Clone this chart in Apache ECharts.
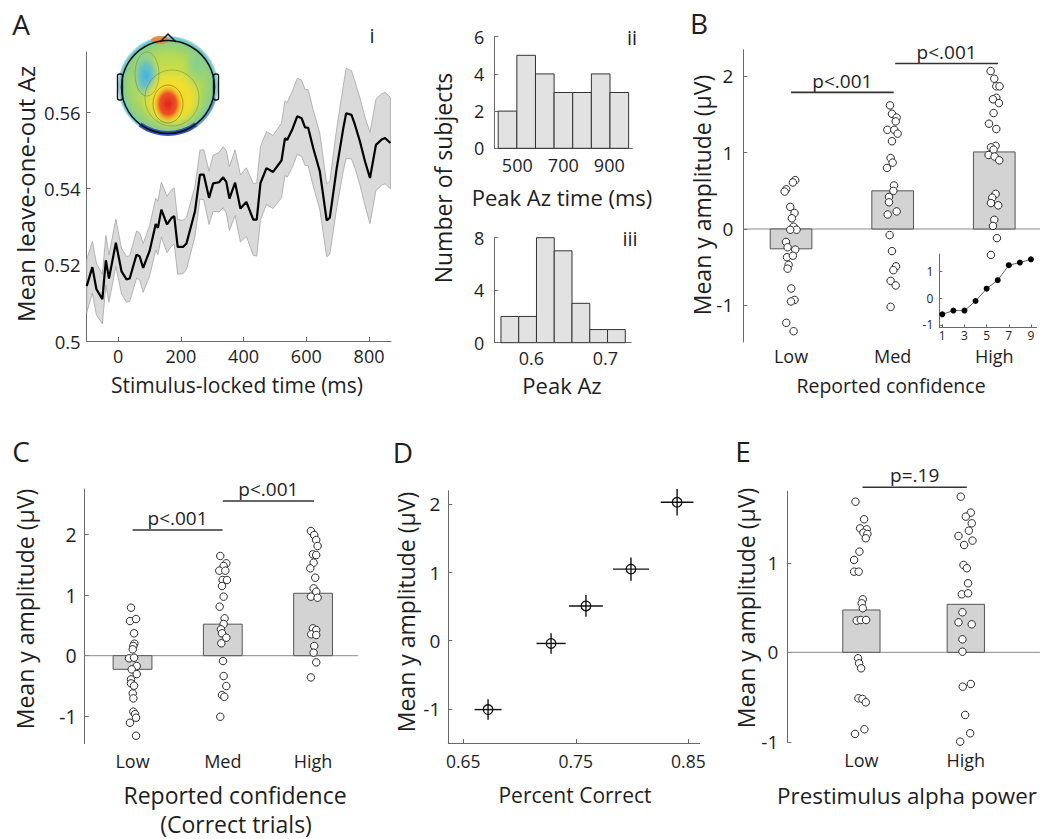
<!DOCTYPE html>
<html><head><meta charset="utf-8">
<script src="https://cdn.jsdelivr.net/npm/echarts@6/dist/echarts.min.js"></script>
<style>html,body{margin:0;padding:0;background:#fff}#c{width:1044px;height:839px}</style>
</head><body><div id="c"></div>
<script>
// ---------- Panel A(i): decoding time course ----------
const timeMs = [-100,-82,-69,-50,-39,-29,-7,11,27,37,59,69,80,101,120,127,138,156,170,179,190,207,218,245,261,273,290,303,322,335,345,355,373,390,409,431,442,454,473,494,521,532,539,556,571,585,596,606,622,643,665,675,697,718,727,744,755,771,787,803,822,840,851,868];
const meanAz = [0.5144,0.5194,0.5136,0.5110,0.5212,0.5164,0.5258,0.5183,0.5162,0.5164,0.5227,0.5222,0.5192,0.5238,0.5307,0.5297,0.5345,0.5306,0.5323,0.5328,0.5247,0.5247,0.5256,0.5340,0.5437,0.5437,0.5376,0.5414,0.5417,0.5430,0.5418,0.5374,0.5416,0.5348,0.5365,0.5319,0.5319,0.5415,0.5454,0.5444,0.5474,0.5533,0.5528,0.5557,0.5590,0.5585,0.5561,0.5560,0.5507,0.5446,0.5317,0.5324,0.5454,0.5559,0.5598,0.5594,0.5568,0.5524,0.5472,0.5428,0.5515,0.5529,0.5533,0.5520];
const semAz = [0.0070,0.0068,0.0068,0.0065,0.0065,0.0062,0.0062,0.0060,0.0060,0.0060,0.0062,0.0062,0.0064,0.0066,0.0068,0.0070,0.0072,0.0074,0.0074,0.0074,0.0072,0.0070,0.0068,0.0066,0.0064,0.0066,0.0070,0.0074,0.0078,0.0080,0.0082,0.0084,0.0086,0.0088,0.0090,0.0094,0.0096,0.0096,0.0096,0.0096,0.0098,0.0098,0.0098,0.0100,0.0100,0.0100,0.0100,0.0100,0.0100,0.0100,0.0096,0.0096,0.0104,0.0112,0.0118,0.0116,0.0114,0.0114,0.0116,0.0120,0.0120,0.0120,0.0120,0.0120];
const aXTicks = [0,200,400,600,800];
const aYTicks = [0.5,0.52,0.54,0.56];

// ---------- Panel A(ii), A(iii): histograms ----------
const peakTimeEdges = [417,498,579,660,741,822,903,984];
const peakTimeCounts = [2,5,4,3,3,4,3];
const peakAzEdges = [0.559,0.583,0.607,0.631,0.655,0.679,0.703,0.727];
const peakAzCounts = [2,2,8,7,3,1,1];

// ---------- Panel B ----------
const confCats = ['Low','Med','High'];
const bMeans = [-0.26,0.50,1.01];
const bLowVals = [0.64,0.61,0.52,0.49,0.29,0.21,0.14,0.03,-0.01,-0.01,-0.17,-0.24,-0.27,-0.37,-0.35,-0.47,-0.52,-0.78,-0.93,-0.95,-1.23,-1.34];
const bLowJit  = [0.041,0.018,-0.047,-0.063,-0.008,0.034,0.008,0.025,0.054,-0.008,-0.050,-0.034,0.041,-0.040,0.018,-0.024,-0.034,0.002,0.034,-0.001,-0.047,0.025];
const bMedVals = [1.62,1.51,1.46,1.41,1.30,1.30,1.25,1.15,0.93,0.87,0.80,0.57,0.50,0.42,0.35,0.19,0.23,-0.08,-0.29,-0.49,-0.54,-0.68,-0.74,-1.02];
const bMedJit  = [-0.026,-0.007,0.039,0.030,-0.052,0.016,0.049,-0.007,-0.020,0,-0.056,0.013,0.007,-0.036,-0.036,-0.049,0.039,-0.030,-0.007,0.033,0.007,-0.020,0.030,-0.020];
const bHighVals = [2.07,1.97,1.87,1.87,1.72,1.70,1.65,1.52,1.38,1.31,1.09,1.07,1.04,0.97,0.95,0.90,0.46,0.41,0.34,0.31,0.12,0.04,-0.12,-0.34];
const bHighJit  = [-0.036,0,0.020,0.052,0.020,-0.013,0.046,-0.007,-0.052,0.020,0.013,-0.033,-0.007,-0.056,0.003,0.049,0.013,-0.020,-0.033,0.039,0,-0.013,0.026,-0.033];
const bBrackets = [[1.0,2.01,1.79],[2.025,3.036,2.17]];
const bBracketLabels = ['p<.001','p<.001'];
// inset
const insetLevels = [1,2,3,4,5,6,7,8,9];
const insetAmp = [-0.60,-0.46,-0.46,-0.10,0.36,0.68,1.24,1.34,1.46];

// ---------- Panel C ----------
const cMeans = [-0.225,0.52,1.03];
const cLowVals = [0.792,0.572,0.605,0.369,0.198,0.160,0.105,-0.044,-0.033,-0.171,-0.226,-0.303,-0.391,-0.457,-0.495,-0.622,-0.704,-0.924,-0.963,-1.023,-1.106,-1.32];
const cLowJit  = [-0.017,-0.028,0.039,0.017,0.020,0.009,0.002,-0.039,0.017,0.046,-0.009,0.046,-0.017,-0.017,0.017,0.002,0.009,0.009,0.028,0.039,-0.028,0.039];
const cMedVals = [1.645,1.524,1.480,1.403,1.403,1.249,1.249,1.150,0.974,0.809,0.616,0.523,0.435,0.369,0.297,0.204,-0.088,-0.336,-0.501,-0.649,-0.677,-1.007];
const cMedJit  = [-0.028,0.039,0.009,-0.039,0.028,-0.002,0.046,-0.009,0.009,-0.035,0.020,0.009,-0.020,-0.009,0.039,-0.017,0.002,0.009,0.039,-0.009,0.017,-0.028];
const cHighVals = [2.057,1.991,1.909,1.810,1.672,1.661,1.535,1.441,1.287,1.111,1.056,0.974,0.957,0.451,0.424,0.352,0.341,0.160,0.050,-0.110,-0.358];
const cHighJit  = [-0.024,0.013,0.035,0.050,-0.002,0.035,0.006,-0.031,0.024,0.006,0.035,-0.024,0.050,-0.002,0.035,-0.020,0.035,0.013,0.006,0.035,-0.024];
const cBrackets = [[1.0,1.997,2.074],[2.0,3.01,2.553]];
const cBracketLabels = ['p<.001','p<.001'];

// ---------- Panel D ----------
const pctCorrect = [0.672,0.728,0.759,0.799,0.840];
const dAmp = [-1.01,-0.04,0.51,1.05,2.03];
const dXErr = [0.012,0.013,0.015,0.016,0.0145];
const dYErr = [0.15,0.15,0.16,0.17,0.195];
const dXTicks = [0.65,0.75,0.85];

// ---------- Panel E ----------
const alphaCats = ['Low','High'];
const eMeans = [0.473,0.536];
const eLowVals = [1.683,1.486,1.385,1.374,1.337,1.322,1.274,1.125,1.032,0.901,0.901,0.592,0.547,0.492,0.354,0.361,0.361,-0.067,-0.123,-0.179,-0.514,-0.521,-0.559,-0.912,-0.860];
const eLowJit  = [-0.057,0.026,-0.013,0.051,0.019,0.057,0.042,-0.019,-0.070,-0.070,-0.026,0.013,0.003,0.013,-0.045,-0.006,0.045,-0.032,-0.022,-0.003,-0.029,0.010,0.042,-0.061,0.029];
const eHighVals = [1.739,1.561,1.516,1.441,1.359,1.300,1.248,1.199,0.976,0.939,0.771,0.648,0.659,0.447,0.335,0.313,0.145,0.007,-0.384,-0.354,-0.700,-0.905,-0.998];
const eHighJit  = [-0.048,0.048,0,0.057,0.029,-0.070,0.064,-0.016,-0.022,0.010,0.022,-0.038,0.022,-0.032,-0.070,0.057,-0.032,-0.032,-0.029,0.048,-0.006,0.042,-0.054];
const eBrackets = [[1.01,2.01,1.844]];
const eBracketLabels = ['p=.19'];

// ================= build =================
const FONT = "'Open Sans', 'DejaVu Sans', sans-serif";
const TXT = '#1e1e1e';
const AX = '#6a6a6a';

function vAxis(o) {
  const fs = o.fs || 18.5;
  return {
    type: 'value', gridIndex: o.g, min: o.min, max: o.max,
    axisLine: { show: o.line !== false, onZero: false, lineStyle: { color: AX, width: 1 } },
    axisTick: { show: o.tick !== false, inside: true, length: o.tl || 4, customValues: o.ticks, lineStyle: { color: AX } },
    axisLabel: { show: true, customValues: o.labels || o.ticks, formatter: o.fmt, margin: o.m == null ? 7 : o.m,
                 fontFamily: FONT, fontSize: fs, lineHeight: fs, color: TXT, hideOverlap: false },
    splitLine: { show: false }
  };
}

const grid = [
  { left: 86.7, top: 52, width: 304.3, height: 289 },     // A
  { left: 494.3, top: 36.7, width: 138, height: 111.6 },  // ii
  { left: 494.3, top: 237.7, width: 136.9, height: 105 }, // iii
  { left: 743.3, top: 49.7, width: 296.7, height: 292.2 },// B
  { left: 939.3, top: 254, width: 97.2, height: 73.4 },   // inset
  { left: 84.7, top: 489, width: 273.5, height: 254.6 },  // C
  { left: 448.3, top: 490.7, width: 251.3, height: 252.3 },// D
  { left: 787.3, top: 491.2, width: 252.6, height: 250.6 } // E
];

const catFmt = (cats) => (v) => cats[Math.round(v) - 1];
const xAxis = [
  vAxis({ g: 0, min: -100, max: 870, ticks: aXTicks, m: 6, fs: 18 }),
  vAxis({ g: 1, min: 400, max: 1000, ticks: [500, 700, 900], m: 8, fs: 18 }),
  vAxis({ g: 2, min: 0.55, max: 0.735, ticks: [0.6, 0.65, 0.7], labels: [0.6, 0.7], m: 6, fs: 18 }),
  vAxis({ g: 3, min: 0.53, max: 3.45, ticks: [1, 2, 3], line: false, tick: false, fmt: catFmt(confCats), m: 5, fs: 18 }),
  vAxis({ g: 4, min: 0.73, max: 9.5, ticks: [1, 3, 5, 7, 9], fs: 12, m: 2, tl: 3 }),
  vAxis({ g: 5, min: 0.47, max: 3.5, ticks: [1, 2, 3], line: false, tick: false, fmt: catFmt(confCats), m: 8, fs: 18 }),
  vAxis({ g: 6, min: 0.63667, max: 0.86, ticks: dXTicks, m: 9, fs: 17.5 }),
  vAxis({ g: 7, min: 0.29, max: 2.71, ticks: [1, 2], line: false, tick: false, fmt: catFmt(alphaCats), m: 9, fs: 18 })
];
const yAxis = [
  vAxis({ g: 0, min: 0.5, max: 0.5759, ticks: aYTicks, m: 6 }),
  vAxis({ g: 1, min: 0, max: 6, ticks: [0, 2, 4, 6], m: 10, fs: 18 }),
  vAxis({ g: 2, min: 0, max: 8, ticks: [0, 4, 8], m: 10, fs: 18 }),
  vAxis({ g: 3, min: -1.48, max: 2.35, ticks: [-1, 0, 1, 2], m: 10, fs: 19 }),
  vAxis({ g: 4, min: -1.09, max: 1.66, ticks: [-1, 0, 1], fs: 12, m: 6, tl: 3 }),
  vAxis({ g: 5, min: -1.45, max: 2.75, ticks: [-1, 0, 1, 2], fs: 19.5, m: 8 }),
  vAxis({ g: 6, min: -1.5, max: 2.2, ticks: [-1, 0, 1, 2], m: 8, fs: 19 }),
  vAxis({ g: 7, min: -1, max: 1.8, ticks: [-1, 0, 1], m: 9, fs: 19 })
];

function rectSeries(ai, rows, fill, stroke) {
  return {
    type: 'custom', xAxisIndex: ai, yAxisIndex: ai, data: rows, encode: { x: [0, 1], y: [2, 3] },
    renderItem: function (params, api) {
      const p0 = api.coord([api.value(0), api.value(3)]);
      const p1 = api.coord([api.value(1), api.value(2)]);
      return { type: 'rect',
        shape: { x: Math.min(p0[0], p1[0]), y: Math.min(p0[1], p1[1]), width: Math.abs(p1[0] - p0[0]), height: Math.abs(p1[1] - p0[1]) },
        style: { fill: fill, stroke: stroke, lineWidth: 1 } };
    }
  };
}
function histRows(edges, counts) { return counts.map((c, i) => [edges[i], edges[i + 1], 0, c]); }
function barRows(means, w) { return means.map((m, i) => [i + 1 - w / 2, i + 1 + w / 2, 0, m]); }
function dotData(groups) {
  const out = [];
  groups.forEach((g, gi) => g[0].forEach((v, i) => out.push([gi + 1 + g[1][i], v])));
  return out;
}
function dotSeries(ai, groups) {
  return { type: 'scatter', xAxisIndex: ai, yAxisIndex: ai, data: dotData(groups), symbol: 'circle', symbolSize: 7.5,
           itemStyle: { color: '#ffffff', borderColor: '#2a2a2a', borderWidth: 1, opacity: 1 }, z: 5 };
}
function zeroSeries(ai, xmin, xmax) {
  return { type: 'line', xAxisIndex: ai, yAxisIndex: ai, data: [[xmin, 0], [xmax, 0]], symbol: 'none',
           lineStyle: { color: '#8a8a8a', width: 1 }, z: 1 };
}
function bracketSeries(ai, rows, labels, gap) {
  return {
    type: 'custom', xAxisIndex: ai, yAxisIndex: ai, data: rows, clip: false, encode: { x: [0, 1], y: 2 }, z: 6,
    renderItem: function (params, api) {
      const a = api.coord([api.value(0), api.value(2)]);
      const b = api.coord([api.value(1), api.value(2)]);
      return { type: 'group', children: [
        { type: 'line', shape: { x1: a[0], y1: a[1], x2: b[0], y2: b[1] }, style: { stroke: '#333', lineWidth: 1.6 } },
        { type: 'text', x: (a[0] + b[0]) / 2, y: a[1] - gap,
          style: { text: labels[params.dataIndex], fill: TXT, fontSize: 19, lineHeight: 19, fontFamily: FONT, align: 'center', verticalAlign: 'bottom', textAlign: 'center', textVerticalAlign: 'bottom' } }
      ] };
    }
  };
}

const series = [];
// A band
series.push({
  type: 'custom', xAxisIndex: 0, yAxisIndex: 0, data: timeMs.map((t, i) => [t, meanAz[i]]), z: 1,
  renderItem: function (params, api) {
    if (params.dataIndex !== 0) return null;
    const pts = [];
    for (let i = 0; i < timeMs.length; i++) pts.push(api.coord([timeMs[i], meanAz[i] + semAz[i]]));
    for (let i = timeMs.length - 1; i >= 0; i--) pts.push(api.coord([timeMs[i], meanAz[i] - semAz[i]]));
    return { type: 'polygon', shape: { points: pts }, style: { fill: '#dadada', stroke: '#a4a4a4', lineWidth: 0.8 } };
  }
});
series.push({ type: 'line', xAxisIndex: 0, yAxisIndex: 0, data: timeMs.map((t, i) => [t, meanAz[i]]), symbol: 'none',
              lineStyle: { color: '#000', width: 2.2 }, z: 3 });
// histograms
series.push(rectSeries(1, histRows(peakTimeEdges, peakTimeCounts), '#e2e2e2', '#333'));
series.push(rectSeries(2, histRows(peakAzEdges, peakAzCounts), '#e2e2e2', '#333'));
// B
series.push(zeroSeries(3, 0.53, 3.45));
series.push(rectSeries(3, barRows(bMeans, 0.41), '#d3d3d3', '#555'));
series.push(dotSeries(3, [[bLowVals, bLowJit], [bMedVals, bMedJit], [bHighVals, bHighJit]]));
series.push(bracketSeries(3, bBrackets, bBracketLabels, 2));
series.push({ type: 'line', xAxisIndex: 4, yAxisIndex: 4, data: insetLevels.map((l, i) => [l, insetAmp[i]]),
              symbol: 'circle', symbolSize: 6, itemStyle: { color: '#000' }, lineStyle: { color: '#666', width: 1 }, z: 4 });
// C
series.push(zeroSeries(5, 0.47, 3.5));
series.push(rectSeries(5, barRows(cMeans, 0.43), '#d3d3d3', '#555'));
series.push(dotSeries(5, [[cLowVals, cLowJit], [cMedVals, cMedJit], [cHighVals, cHighJit]]));
series.push(bracketSeries(5, cBrackets, cBracketLabels, 2));
// D
series.push({
  type: 'custom', xAxisIndex: 6, yAxisIndex: 6, data: pctCorrect.map((p, i) => [p, dAmp[i], dXErr[i], dYErr[i]]),
  encode: { x: 0, y: 1 },
  renderItem: function (params, api) {
    const x = api.value(0), y = api.value(1), xe = api.value(2), ye = api.value(3);
    const c = api.coord([x, y]), l = api.coord([x - xe, y]), r = api.coord([x + xe, y]);
    const t = api.coord([x, y + ye]), b = api.coord([x, y - ye]);
    return { type: 'group', children: [
      { type: 'line', shape: { x1: l[0], y1: l[1], x2: r[0], y2: r[1] }, style: { stroke: '#111', lineWidth: 1.4 } },
      { type: 'line', shape: { x1: t[0], y1: t[1], x2: b[0], y2: b[1] }, style: { stroke: '#111', lineWidth: 1.4 } },
      { type: 'circle', shape: { cx: c[0], cy: c[1], r: 4.8 }, style: { fill: 'none', stroke: '#111', lineWidth: 1.3 } }
    ] };
  }
});
// E
series.push(zeroSeries(7, 0.29, 2.71));
series.push(rectSeries(7, barRows(eMeans, 0.357), '#d3d3d3', '#555'));
series.push(dotSeries(7, [[eLowVals, eLowJit], [eHighVals, eHighJit]]));
series.push(bracketSeries(7, eBrackets, eBracketLabels, 3));

// ---------- text & topomap graphics ----------
function txt(s, x, y, size, rot) {
  return { type: 'text', x: x, y: y, rotation: rot ? Math.PI / 2 : 0, z: 50,
           style: { text: s, fill: TXT, fontSize: size, lineHeight: size, fontFamily: FONT, align: 'center', verticalAlign: 'middle', textAlign: 'center', textVerticalAlign: 'middle' } };
}
const rg = (stops) => ({ type: 'radial', x: 0.5, y: 0.5, r: 0.5, colorStops: stops.map(s => ({ offset: s[0], color: s[1] })) });
const topo = [
  { type: 'circle', shape: { cx: 168, cy: 86, r: 50 }, style: { fill: rg([[0, '#dfe23c'], [0.6, '#b8da52'], [0.86, '#8fd07e'], [0.95, '#70c6c8'], [1, 'rgba(150,215,235,0.9)']]) } },
  { type: 'ellipse', shape: { cx: 146, cy: 76, rx: 14, ry: 25 }, style: { fill: rg([[0, '#46b0e6'], [0.45, 'rgba(90,188,215,0.85)'], [1, 'rgba(130,205,180,0)']]) } },
  { type: 'ellipse', shape: { cx: 196, cy: 66, rx: 12, ry: 20 }, style: { fill: rg([[0, 'rgba(125,205,160,0.8)'], [1, 'rgba(125,205,160,0)']]) } },
  { type: 'ellipse', shape: { cx: 172, cy: 100, rx: 31, ry: 30 }, style: { fill: rg([[0, '#fbd61c'], [0.6, 'rgba(248,222,40,0.85)'], [1, 'rgba(240,225,60,0)']]) } },
  { type: 'ellipse', shape: { cx: 168, cy: 104, rx: 14, ry: 18 }, style: { fill: rg([[0, '#e0221c'], [0.6, '#ec5424'], [1, 'rgba(245,150,40,0)']]) } },
  { type: 'ellipse', shape: { cx: 168, cy: 104, rx: 15, ry: 19 }, style: { fill: 'none', stroke: 'rgba(90,80,50,0.7)', lineWidth: 0.7 } },
  { type: 'ellipse', shape: { cx: 172, cy: 98, rx: 27, ry: 28 }, style: { fill: 'none', stroke: 'rgba(90,100,60,0.55)', lineWidth: 0.7 } },
  { type: 'ellipse', shape: { cx: 147, cy: 74, rx: 12, ry: 22 }, style: { fill: 'none', stroke: 'rgba(70,100,90,0.5)', lineWidth: 0.7 } },
  { type: 'sector', shape: { cx: 168, cy: 86, r: 50, r0: 45, startAngle: Math.PI * 0.3, endAngle: Math.PI * 0.7 }, style: { fill: 'rgba(40,60,180,0.85)' } },
  { type: 'sector', shape: { cx: 168, cy: 86, r: 50, r0: 46, startAngle: Math.PI * 0.08, endAngle: Math.PI * 0.3 }, style: { fill: 'rgba(60,120,210,0.55)' } },
  { type: 'ellipse', shape: { cx: 160, cy: 40, rx: 9, ry: 4 }, style: { fill: 'rgba(240,130,40,0.85)' } },
  { type: 'circle', shape: { cx: 168, cy: 87, r: 46.5 }, style: { fill: 'none', stroke: '#111', lineWidth: 1.5 } },
  { type: 'polyline', shape: { points: [[160, 42], [168, 34], [176, 42]] }, style: { fill: 'none', stroke: '#111', lineWidth: 1.5 } },
  { type: 'rect', shape: { x: 117.5, y: 74, width: 5, height: 26, r: 2 }, style: { fill: 'none', stroke: '#111', lineWidth: 1.4 } },
  { type: 'rect', shape: { x: 213.5, y: 74, width: 5, height: 26, r: 2 }, style: { fill: 'none', stroke: '#111', lineWidth: 1.4 } }
].map(e => Object.assign({ z: 40 }, e));

const texts = [
  txt('A', 21, 24, 28), txt('B', 699, 23, 28), txt('C', 21, 451, 28), txt('D', 403, 452, 28), txt('E', 743, 451, 28),
  txt('i', 372, 35, 20), txt('ii', 632, 37, 20), txt('iii', 630, 238, 20),
  txt('Mean leave-one-out Az', 25, 194, 24, true),
  txt('Stimulus-locked time (ms)', 237, 385, 21),
  txt('Number of subjects', 443, 178, 23, true),
  txt('Peak Az time (ms)', 562, 197, 22),
  txt('Peak Az', 562, 385, 22),
  txt('Mean y amplitude (μV)', 702, 195, 23, true),
  txt('Reported confidence', 891, 385, 19.5),
  txt('Mean y amplitude (μV)', 25, 609, 23, true),
  txt('Reported confidence', 235, 795, 23),
  txt('(Correct trials)', 236, 824, 23),
  txt('Mean y amplitude (μV)', 406, 612, 23, true),
  txt('Percent Correct', 575, 795, 21),
  txt('Mean y amplitude (μV)', 746, 608, 23, true),
  txt('Prestimulus alpha power', 907, 795, 22.4)
];

const chart = echarts.init(document.getElementById('c'), null, { renderer: 'svg', width: 1044, height: 839 });
chart.setOption({
  animation: false,
  backgroundColor: '#fff',
  textStyle: { fontFamily: FONT },
  grid: grid.map(g => Object.assign({ containLabel: false }, g)),
  xAxis: xAxis,
  yAxis: yAxis,
  series: series,
  graphic: { elements: topo.concat(texts) }
});
</script></body></html>
